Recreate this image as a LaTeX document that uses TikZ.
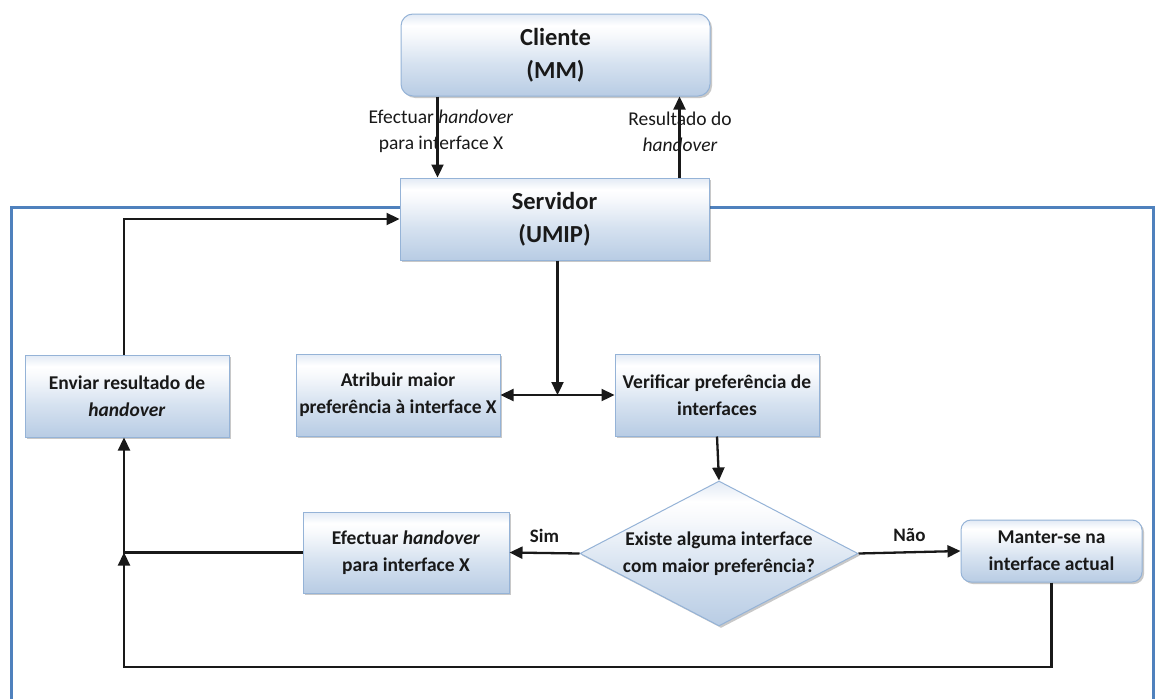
\documentclass[tikz,border=0pt]{standalone}
\usepackage{fontspec}
\setmainfont{Carlito}
\usetikzlibrary{arrows.meta,shapes.geometric,shadows}

\definecolor{bbot}{RGB}{184,204,228}
\definecolor{bmid}{RGB}{214,226,240}
\definecolor{blite}{RGB}{247,249,252}
\definecolor{btop}{RGB}{226,234,245}
\definecolor{bedge}{RGB}{149,179,215}
\definecolor{frameblue}{RGB}{79,129,189}
\definecolor{ink}{RGB}{25,25,25}

\pgfdeclareverticalshading{boxshade}{100bp}{%
  color(0bp)=(bbot); color(25bp)=(bbot); color(45bp)=(bmid);
  color(62bp)=(blite); color(68bp)=(white); color(75bp)=(btop); color(100bp)=(btop)}

\tikzset{
  procbox/.style={draw=bedge, line width=1pt, shading=boxshade,
    drop shadow={shadow xshift=2pt, shadow yshift=-2pt, opacity=0.3, fill=black!70},
    inner sep=0pt, text=ink, align=center,
    font=\fontsize{19.5}{27}\selectfont\bfseries},
  bigbox/.style={procbox, font=\fontsize{24.5}{33}\selectfont\bfseries},
  arr/.style={draw=ink, line width=2.3pt, -{Triangle[length=13pt,width=12pt]}},
  biarr/.style={draw=ink, line width=2.3pt, {Triangle[length=13pt,width=12pt]}-{Triangle[length=13pt,width=12pt]}},
  lbl/.style={text=ink, align=center, inner sep=0pt, font=\fontsize{19.5}{26}\selectfont},
  blbl/.style={text=ink, inner sep=0pt, font=\fontsize{19}{22}\selectfont\bfseries}
}

\begin{document}
\begin{tikzpicture}[x=1pt, y=-1pt]
\useasboundingbox[fill=white] (0,0) rectangle (1156,699);

% outer frame of the server side
\draw[frameblue, line width=3pt] (11,699) -- (11,207) -- (1153,207) -- (1153,699);

% client and server
\node[bigbox, rounded corners=12pt, minimum width=309pt, minimum height=82pt]
  (cli) at (555.5,55) {Cliente\\(MM)};
\node[bigbox, minimum width=309pt, minimum height=82pt]
  (srv) at (554.5,219) {Servidor\\(UMIP)};

% process steps
\node[procbox, minimum width=204pt, minimum height=82pt]
  (env) at (127,396) {Enviar resultado de\\\textit{handover}};
\node[procbox, minimum width=204pt, minimum height=82pt]
  (atr) at (398,395) {Atribuir maior\\preferência à interface X};
\node[procbox, minimum width=204pt, minimum height=82pt]
  (ver) at (717,395) {Verificar preferência de\\interfaces};
\node[procbox, minimum width=206pt, minimum height=81pt]
  (efe) at (406,552.5) {Efectuar \textit{handover}\\para interface X};
\node[procbox, rounded corners=10pt, minimum width=181pt, minimum height=62pt]
  (man) at (1051.5,551) {Manter-se na\\interface actual};

% decision
\node[procbox, diamond, minimum width=278pt, minimum height=145pt]
  (dia) at (719,553.5) {};
\node[text=ink, align=center, inner sep=0pt, font=\fontsize{19.5}{27}\selectfont\bfseries]
  (diatext) at (dia) {Existe alguma interface\\com maior preferência?};

% client <-> server
\draw[arr] ([xshift=-118pt]cli.south) -- ([xshift=-118pt]cli.south |- srv.north);
\draw[arr] ([xshift=125pt]srv.north) -- ([xshift=125pt]srv.north |- cli.south);
\node[lbl] (lblreq) at (441,131) {Efectuar \textit{handover}\\para interface X};
\node[lbl] (lblres) at (680,132) {Resultado do\\\textit{handover}};

% server -> choice of next step
\draw[arr] ([xshift=3pt]srv.south) -- ([xshift=3pt]srv.south |- atr.east);
\draw[biarr] (atr.east) -- (ver.west);
\draw[arr] (ver.south) -- (dia.north);

% decision outcomes
\draw[arr] (dia.west) -- (efe.east) node[blbl, midway, above=9pt] (lblsim) {Sim};
\draw[arr] (dia.east) -- (man.west) node[blbl, midway, above=9pt] (lblnao) {Não};

% return paths
\coordinate (bot) at (0,667);
\draw[arr] (efe.west) -| ([xshift=-3pt]env.south);
\draw[arr] (man.south) |- ([xshift=-3pt]env.south |- bot) -- ([xshift=-3pt]env.south |- efe.west);
\draw[arr] ([xshift=-3pt]env.north) |- (srv.west);
\end{tikzpicture}
\end{document}
